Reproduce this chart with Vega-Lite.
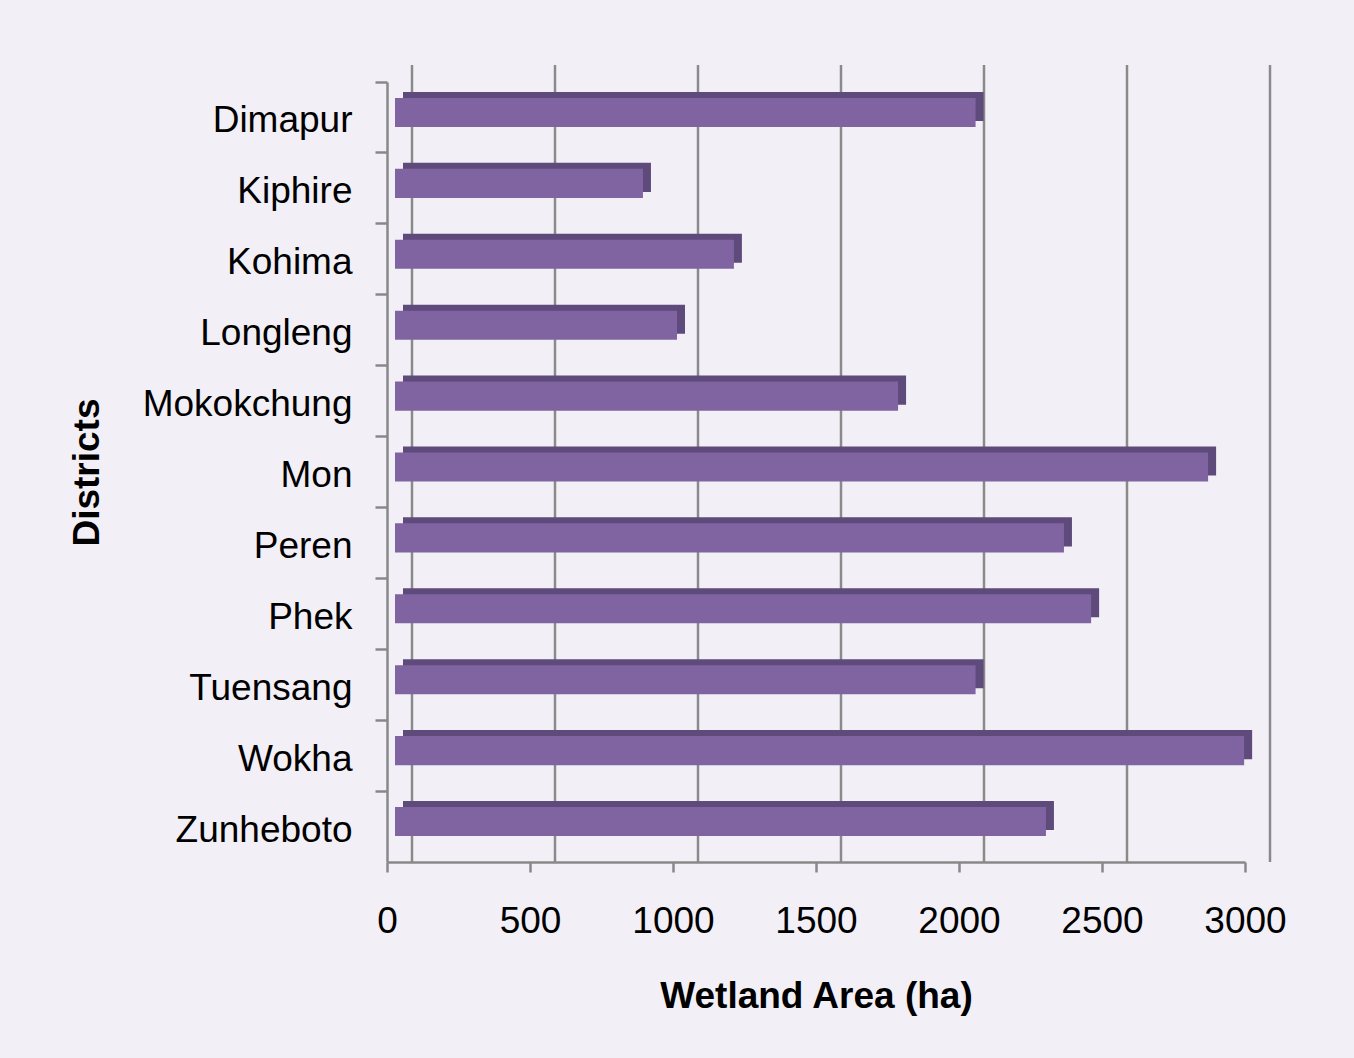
{
  "$schema": "https://vega.github.io/schema/vega-lite/v6.json",
  "autosize": "none",
  "width": 858,
  "height": 780,
  "padding": {"left": 387, "top": 82, "right": 109, "bottom": 196},
  "background": "#f2f0f6",
  "config": {
    "view": {"stroke": null},
    "font": "Liberation Sans",
    "axis": {"labelFont": "Liberation Sans", "titleFont": "Liberation Sans"}
  },
  "datasets": {
    "districts": [
      {"district": "Dimapur", "value": 2030},
      {"district": "Kiphire", "value": 867},
      {"district": "Kohima", "value": 1185},
      {"district": "Longleng", "value": 986},
      {"district": "Mokokchung", "value": 1759},
      {"district": "Mon", "value": 2843},
      {"district": "Peren", "value": 2339},
      {"district": "Phek", "value": 2434},
      {"district": "Tuensang", "value": 2030},
      {"district": "Wokha", "value": 2969},
      {"district": "Zunheboto", "value": 2276}
    ],
    "ticks": [
      {"value": 0}, {"value": 500}, {"value": 1000}, {"value": 1500},
      {"value": 2000}, {"value": 2500}, {"value": 3000}
    ]
  },
  "encoding": {
    "x": {
      "field": "value",
      "type": "quantitative",
      "scale": {"domain": [0, 3000], "nice": false, "zero": true},
      "axis": {
        "title": "Wetland Area (ha)",
        "values": [0, 500, 1000, 1500, 2000, 2500, 3000],
        "format": "d",
        "grid": false,
        "labelFlush": false,
        "labelOverlap": false,
        "domainColor": "#888888",
        "domainWidth": 2.5,
        "tickColor": "#888888",
        "tickWidth": 2.5,
        "tickSize": 10,
        "labelFontSize": 37,
        "labelColor": "#000000",
        "labelPadding": 31,
        "titleFontSize": 37,
        "titleFontWeight": "bold",
        "titleColor": "#000000",
        "titleBaseline": "middle",
        "titleY": 134
      }
    }
  },
  "layer": [
    {
      "data": {"name": "ticks"},
      "mark": {"type": "rule", "xOffset": 25, "yOffset": -17, "y2Offset": -17, "color": "#8a8a8a", "strokeWidth": 2.5}
    },
    {
      "data": {"name": "districts"},
      "mark": {"type": "bar", "color": "#5e4a7b", "xOffset": 16, "x2Offset": 16, "yOffset": -11, "y2Offset": -11, "height": {"band": 0.41}},
      "encoding": {
        "y": {
          "field": "district",
          "type": "nominal",
          "sort": null,
          "scale": {"paddingInner": 0, "paddingOuter": 0},
          "axis": {
            "title": "Districts",
            "bandPosition": 0,
            "labelLimit": 0,
            "labelOffset": 4,
            "domainColor": "#888888",
            "domainWidth": 2.5,
            "tickColor": "#888888",
            "tickWidth": 2.5,
            "tickSize": 12,
            "labelFontSize": 37,
            "labelColor": "#000000",
            "labelPadding": 23,
            "titleFontSize": 37,
            "titleFontWeight": "bold",
            "titleColor": "#000000",
            "titleAngle": -90,
            "titleBaseline": "middle",
            "titleAlign": "center",
            "titleX": -300,
            "titleY": 390
          }
        }
      }
    },
    {
      "data": {"name": "districts"},
      "mark": {"type": "bar", "color": "#8064a2", "xOffset": 8, "x2Offset": 8, "yOffset": -5, "y2Offset": -5, "height": {"band": 0.41}},
      "encoding": {
        "y": {"field": "district", "type": "nominal", "sort": null}
      }
    }
  ]
}
